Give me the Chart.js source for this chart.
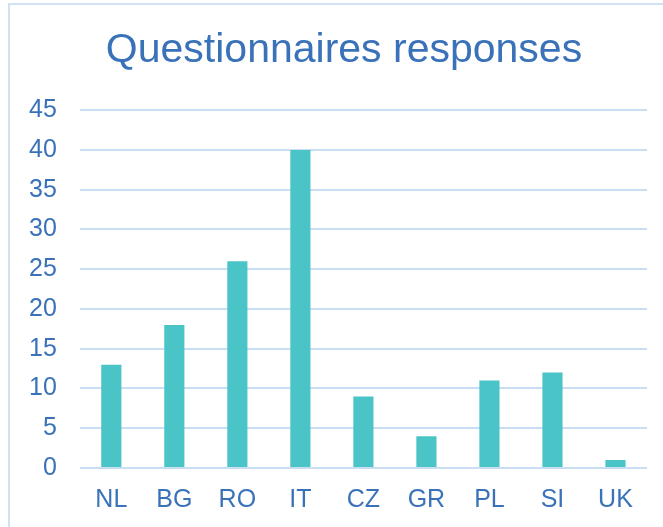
<!DOCTYPE html>
<html>
<head>
<meta charset="utf-8">
<script src="https://cdn.jsdelivr.net/npm/chart.js@4"></script>
<style>
  html, body { margin: 0; padding: 0; background: #fff; overflow: hidden; }
  #frame {
    position: absolute; left: 8px; top: 3px; width: 700px; height: 600px;
    border-left: 2px solid #cfe2f3; border-top: 2px solid #cfe2f3;
  }
  #chart { position: absolute; left: 0; top: 0; }
</style>
</head>
<body>
<div id="frame"></div>
<canvas id="chart" width="688" height="527"></canvas>
<script>
// values
const countries = ['NL', 'BG', 'RO', 'IT', 'CZ', 'GR', 'PL', 'SI', 'UK'];
const responses = [13, 18, 26, 40, 9, 4, 11, 12, 1];

const blueText = '#3a72b9';
const gridBlue = '#c9def2';
const barTeal = '#4bc4c7';

new Chart(document.getElementById('chart').getContext('2d'), {
    type: 'bar',
    data: {
        labels: countries,
        datasets: [
            {
                label: 'Responses',
                data: responses,
                backgroundColor: barTeal,
                borderWidth: 0,
                categoryPercentage: 1.0,
                barPercentage: 0.32
            }
        ]
    },
    options: {
        responsive: false,
        animation: false,
        layout: {
            padding: { left: 6, right: 6, top: 0, bottom: 3 }
        },
        plugins: {
            legend: { display: false },
            tooltip: { enabled: false },
            title: {
                display: true,
                text: 'Questionnaires responses',
                color: blueText,
                font: { family: '"Liberation Sans", Arial, sans-serif', size: 41, weight: 'normal' },
                padding: { top: 26, bottom: 35 }
            }
        },
        scales: {
            x: {
                grid: { display: false },
                border: { display: false },
                ticks: {
                    color: blueText,
                    padding: 9,
                    font: { family: '"Liberation Sans", Arial, sans-serif', size: 25 }
                }
            },
            y: {
                min: 0,
                max: 45,
                grid: { color: gridBlue, lineWidth: 2, drawTicks: false },
                border: { display: false },
                ticks: {
                    stepSize: 5,
                    color: blueText,
                    padding: 23,
                    font: { family: '"Liberation Sans", Arial, sans-serif', size: 25 }
                }
            },
            // empty spacer on the right so the plot ends where the original does
            // while the title stays centred on the wider frame
            spacer: {
                type: 'linear',
                position: 'right',
                grid: { display: false, drawTicks: false },
                border: { display: false },
                ticks: { display: false },
                afterFit: (scale) => { scale.width = 35; }
            }
        }
    }
});
</script>
</body>
</html>
